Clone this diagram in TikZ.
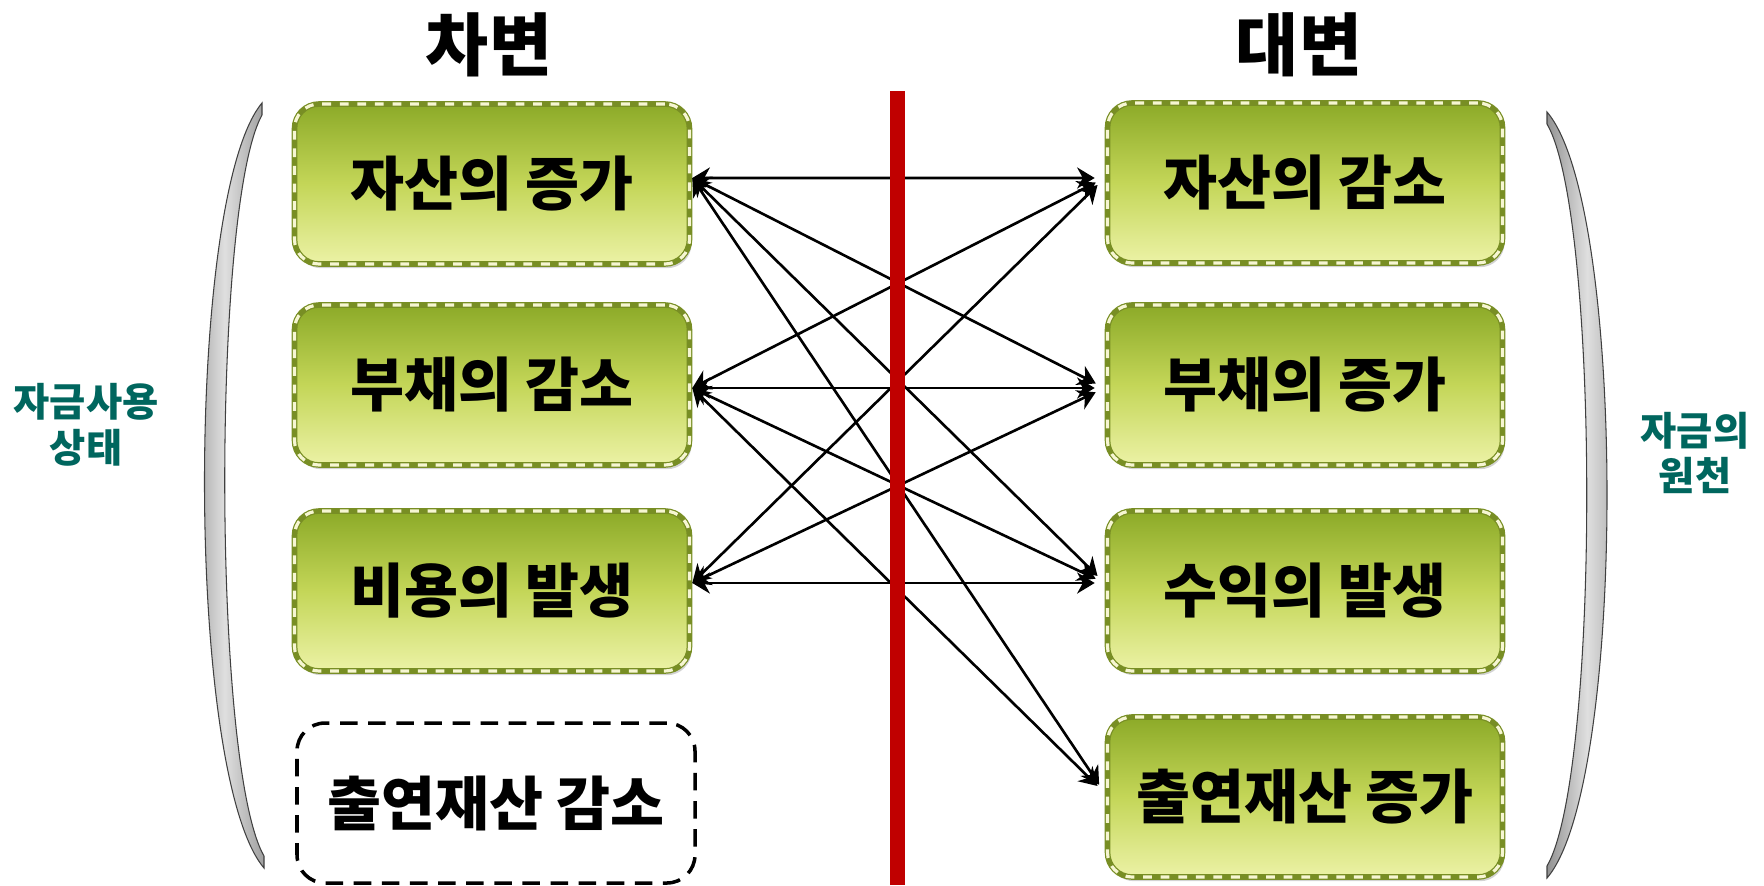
\documentclass[tikz,border=0pt]{standalone}
\usepackage{fontspec}
\setmainfont{Noto Sans CJK KR}
\usepackage{tikz}
\usetikzlibrary{arrows.meta, shadows}
\definecolor{boxtop}{RGB}{140,170,40}
\definecolor{boxmid}{RGB}{196,214,88}
\definecolor{boxbot}{RGB}{236,242,166}
\definecolor{boxedge}{RGB}{120,142,36}
\definecolor{boxdash}{RGB}{246,246,210}
\definecolor{divred}{RGB}{192,0,0}
\definecolor{sideteal}{RGB}{0,102,94}
\tikzset{
  acctbox/.style={rectangle, rounded corners=7pt, inner sep=0pt,
    minimum width=3.95cm, minimum height=1.6cm,
    top color=boxtop, bottom color=boxbot, middle color=boxmid,
    draw=boxedge, line width=1.6pt,
    postaction={draw=boxdash, line width=0.9pt, dash pattern=on 2.5pt off 2.5pt},
    drop shadow={shadow xshift=0.6pt, shadow yshift=-1.2pt, opacity=0.35, fill=black!50},
    font=\fontsize{16.7}{19}\selectfont\bfseries},
  emptybox/.style={rectangle, rounded corners=8pt, inner sep=0pt,
    minimum width=3.98cm, minimum height=1.6cm, fill=white,
    draw=black, line width=1pt, dash pattern=on 5pt off 3pt,
    font=\fontsize{16.7}{19}\selectfont\bfseries},
  titletext/.style={font=\fontsize{19.5}{22}\selectfont\bfseries},
  sidetext/.style={align=center, text=sideteal,
    font=\fontsize{11.2}{13}\selectfont\bfseries},
  link/.style={{Stealth[length=5pt,width=6pt]}-{Stealth[length=5pt,width=6pt]},
    line width=0.75pt, shorten >=0.1cm},
  divider/.style={line width=4.3pt, color=divred},
  bracket/.style={left color=gray!85, right color=gray!75, middle color=gray!25,
    draw=gray!50!black, line width=0.3pt}
}
\begin{document}
\begin{tikzpicture}
  \useasboundingbox (0,0) rectangle (17.64,8.85);

  % ── Titles ─────────────────────────────────────────────────────────────────
  \node[titletext] (debit)  at (4.89,8.40)  {차변};
  \node[titletext] (credit) at (12.99,8.40) {대변};

  % ── Debit side ─────────────────────────────────────────────────────────────
  \node[acctbox]  (assetUp)    at (4.92,7.01) {자산의 증가};
  \node[acctbox]  (liabDown)   at (4.92,5.00) {부채의 감소};
  \node[acctbox]  (expense)    at (4.92,2.94) {비용의 발생};
  \node[emptybox] (equityDown) at (4.96,0.82) {출연재산 감소};

  % ── Credit side ────────────────────────────────────────────────────────────
  \node[acctbox] (assetDown) at (13.05,7.02) {자산의 감소};
  \node[acctbox] (liabUp)    at (13.05,5.00) {부채의 증가};
  \node[acctbox] (revenue)   at (13.05,2.94) {수익의 발생};
  \node[acctbox] (equityUp)  at (13.05,0.88) {출연재산 증가};

  % link ends
  \coordinate (assetUpE)   at ([yshift=0.6mm]assetUp.east);
  \coordinate (liabDownE)  at ([yshift=-0.3mm]liabDown.east);
  \coordinate (expenseE)   at ([yshift=0.8mm]expense.east);
  \coordinate (assetDownW) at ([yshift=0.5mm]assetDown.west);
  \coordinate (liabUpW)    at ([yshift=-0.3mm]liabUp.west);
  \coordinate (revenueW)   at ([yshift=0.8mm]revenue.west);
  \coordinate (equityUpW)  at ([yshift=0.4mm]equityUp.west);

  % ── Links ──────────────────────────────────────────────────────────────────
  \foreach \a/\b in {assetUp/assetDown, assetUp/liabUp, assetUp/revenue, assetUp/equityUp,
                     liabDown/assetDown, liabDown/liabUp, liabDown/revenue, liabDown/equityUp,
                     expense/assetDown, expense/liabUp, expense/revenue}
    \draw[link] (\a E) -- (\b W);

  % ── Divider ────────────────────────────────────────────────────────────────
  \draw[divider] (8.975,7.94) -- (8.975,0);

  % ── Brackets ───────────────────────────────────────────────────────────────
  \shade[bracket] (2.62,7.82) .. controls (1.85,6.9) and (1.85,1.1) .. (2.64,0.17)
    -- (2.64,0.29) .. controls (2.12,1.2) and (2.12,6.8) .. (2.62,7.70) -- cycle;
  \shade[bracket] (15.47,7.73) .. controls (16.27,6.8) and (16.27,1.0) .. (15.47,0.07)
    -- (15.47,0.19) .. controls (16.0,1.1) and (16.0,6.7) .. (15.47,7.61) -- cycle;

  % ── Side labels ────────────────────────────────────────────────────────────
  \node[sidetext] (useLbl) at (0.86,4.60)  {자금사용\\상태};
  \node[sidetext] (srcLbl) at (16.95,4.32) {자금의\\원천};
\end{tikzpicture}
\end{document}
